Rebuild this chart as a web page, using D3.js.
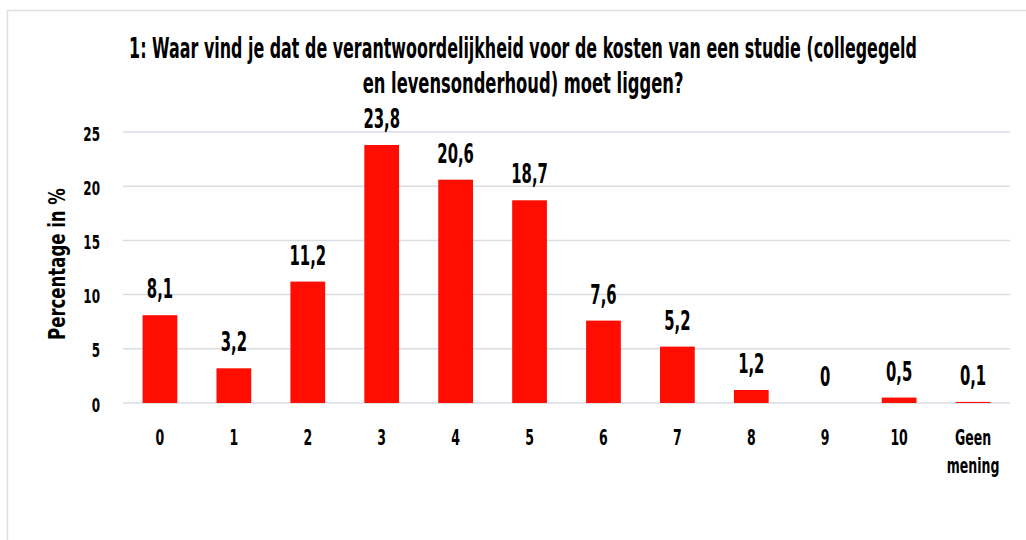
<!DOCTYPE html>
<html>
<head>
<meta charset="utf-8">
<script src="https://cdn.jsdelivr.net/npm/d3@7"></script>
<style>
  body { margin: 0; background: #fff; }
  text { font-family: "DejaVu Sans", sans-serif; font-weight: bold; fill: #000; }
</style>
</head>
<body>
<div id="chart"></div>
<script>
var categories = ["0", "1", "2", "3", "4", "5", "6", "7", "8", "9", "10", "Geen mening"];
var values = [8.1, 3.2, 11.2, 23.8, 20.6, 18.7, 7.6, 5.2, 1.2, 0, 0.5, 0.1];
var yTicks = [0, 5, 10, 15, 20, 25];
var titleLines = ["1: Waar vind je dat de verantwoordelijkheid voor de kosten van een studie (collegegeld",
                  "en levensonderhoud) moet liggen?"];
var yTitle = "Percentage in %";

var W = 1026, H = 540;
var margin = {top: 132, right: 16, bottom: 137, left: 123},
    width = W - margin.left - margin.right,
    height = H - margin.top - margin.bottom;

// squeeze text horizontally to look like a condensed face
function condense(sel, sx) {
    sel.each(function() {
        var t = d3.select(this);
        var px = +t.attr("x") || 0, py = +t.attr("y") || 0;
        t.attr("x", 0).attr("y", 0)
         .attr("transform", "translate(" + px + "," + py + ") scale(" + sx + ",1)");
        t.selectAll("tspan").attr("x", 0);
    });
}

var svg = d3.select("#chart").append("svg")
    .attr("width", W)
    .attr("height", H);

// outer frame (only left and top edges visible)
svg.append("rect")
    .attr("x", 7.5).attr("y", 10.5)
    .attr("width", W + 20).attr("height", H + 20)
    .attr("fill", "none")
    .attr("stroke", "#dcdfe5")
    .attr("stroke-width", 1.5);

var g = svg.append("g")
    .attr("transform", "translate(" + margin.left + "," + margin.top + ")");

var x = d3.scaleBand()
    .domain(categories)
    .range([0, width])
    .paddingInner(0.53)
    .paddingOuter(0.265);

var y = d3.scaleLinear()
    .domain([0, 25])
    .range([height, 0]);

// gridlines
g.append("g")
    .selectAll("line")
    .data(yTicks)
    .join("line")
    .attr("x1", 0).attr("x2", width)
    .attr("y1", function(d) { return y(d); })
    .attr("y2", function(d) { return y(d); })
    .attr("stroke", "#d9dde4")
    .attr("stroke-width", 1.5);

// y axis labels
var yAxis = d3.axisLeft(y).tickValues(yTicks).tickSize(0).tickPadding(0);
var yg = g.append("g")
    .attr("transform", "translate(-23,0)")
    .call(yAxis)
    .call(function(s) { s.select(".domain").remove(); });
yg.selectAll("text")
    .attr("font-size", 20)
    .attr("font-family", null)
    .attr("dy", null)
    .attr("y", 8);
condense(yg.selectAll("text"), 0.6);

// x axis labels
var xAxis = d3.axisBottom(x).tickSize(0).tickPadding(0);
var xg = g.append("g")
    .attr("transform", "translate(0," + height + ")")
    .call(xAxis)
    .call(function(s) { s.select(".domain").remove(); });

xg.selectAll("text")
    .attr("font-size", 22)
    .attr("font-family", null)
    .attr("y", 42)
    .attr("dy", null)
    .each(function(d) {
        var t = d3.select(this), words = d.split(" ");
        if (words.length > 1) {
            t.text(null);
            words.forEach(function(w, i) {
                t.append("tspan").attr("x", 0).attr("dy", i === 0 ? 0 : 28).text(w);
            });
        }
    });
condense(xg.selectAll("text"), 0.57);

// bars
g.append("g")
    .selectAll("rect")
    .data(values)
    .join("rect")
    .attr("x", function(d, i) { return x(categories[i]); })
    .attr("width", x.bandwidth())
    .attr("y", function(d) { return y(d); })
    .attr("height", function(d) { return height - y(d); })
    .attr("fill", "#ff0d00");

// value labels
var labels = g.append("g")
    .selectAll("text")
    .data(values)
    .join("text")
    .attr("x", function(d, i) { return x(categories[i]) + x.bandwidth() / 2; })
    .attr("y", function(d) { return y(d) - 17; })
    .attr("text-anchor", "middle")
    .attr("font-size", 27)
    .text(function(d) { return String(d).replace(".", ","); });
condense(labels, 0.55);

// y axis title
var yt = svg.append("text")
    .attr("x", 0).attr("y", 0)
    .attr("text-anchor", "middle")
    .attr("font-size", 23)
    .text(yTitle);
var ytScale = 152 / yt.node().getComputedTextLength();
yt.attr("transform", "translate(65,264) rotate(-90) scale(" + ytScale + ",1)");

// title, squeezed to the reference line widths
var titleWidths = [788, 321];
svg.append("g")
    .selectAll("text")
    .data(titleLines)
    .join("text")
    .attr("text-anchor", "middle")
    .attr("font-size", 28)
    .text(function(d) { return d; })
    .each(function(d, i) {
        var sx = titleWidths[i] / this.getComputedTextLength();
        d3.select(this).attr("transform",
            "translate(523," + (58 + i * 35) + ") scale(" + sx + ",1)");
    });
</script>
</body>
</html>
